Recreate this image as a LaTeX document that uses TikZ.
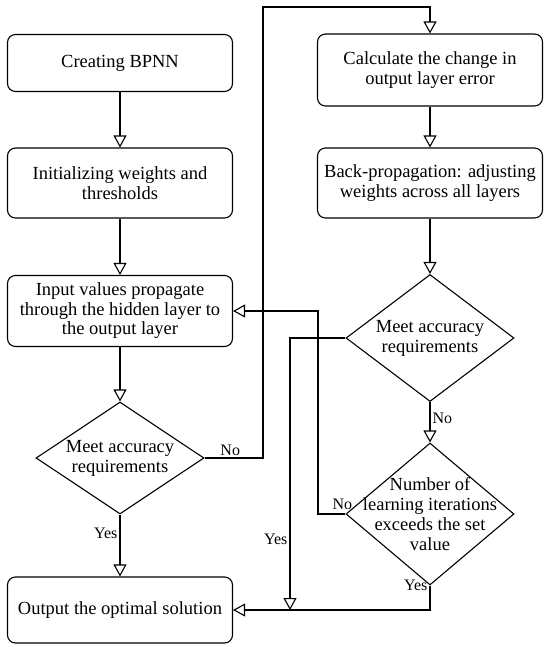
\documentclass[tikz,border=0pt]{standalone}
\usepackage{fontspec}
\setmainfont{Liberation Serif}
\usetikzlibrary{arrows.meta,shapes.geometric}

\tikzset{
    stepbox/.style={draw, rounded corners=8pt, minimum width=225pt,
        align=center, inner sep=2pt, font=\fontsize{18.5}{19.5}\selectfont},
    decision/.style={draw, diamond, minimum width=168pt, inner sep=0pt},
    dtext/.style={align=center, inner sep=0pt, font=\fontsize{18.5}{20}\selectfont},
    flow/.style={-{Triangle[open,length=12pt,width=13pt]}},
    tag/.style={inner sep=2pt, font=\fontsize{16}{18}\selectfont}
}

\begin{document}
\begin{tikzpicture}[x=1pt, y=-1pt, line width=1.1pt]
\useasboundingbox (0,0) rectangle (550,647);

% Left column
\node[stepbox, minimum height=57pt] (create) at (120,63) {Creating BPNN};
\node[stepbox, minimum height=70pt] (init) at (120,183) {Initializing  weights and\\thresholds};
\node[stepbox, minimum height=71pt] (input) at (120,311) {Input values propagate\\through the hidden layer to\\the output layer};
\node[decision, minimum height=112pt,
    label={[dtext]center:{Meet accuracy\\requirements}}] (meet1) at (120,458) {};
\node[stepbox, minimum height=66pt] (output) at (120,610) {Output the optimal solution};

% Right column
\node[stepbox, minimum height=72pt] (change) at (430,70) {Calculate the change in\\output layer error};
\node[stepbox, minimum height=70pt] (backprop) at (430,183) {Back-propagation: adjusting\\weights across all layers};
\node[decision, minimum height=127pt,
    label={[dtext]center:{Meet accuracy\\requirements}}] (meet2) at (430,338) {};
\node[decision, minimum height=142pt,
    label={[dtext]center:{Number of\\learning iterations\\exceeds the set\\value}}] (iter) at (430,514) {};

% Corners
\coordinate (top) at (263,7);
\coordinate (retry) at (318,311);
\coordinate (join) at (290,610);

% Connectors
\draw[flow] (create) -- (init);
\draw[flow] (init) -- (input);
\draw[flow] (input) -- (meet1);
\draw[flow] (meet1) -- node[tag, left, pos=0.3] {Yes} (output);
\draw[flow] (meet1.east) -| node[tag, above, pos=0.22] {No} (top) -| (change.north);
\draw[flow] (change) -- (backprop);
\draw[flow] (backprop) -- (meet2);
\draw[flow] (meet2) -- node[tag, right, pos=0.4] {No} (iter);
\draw[flow] (meet2.west) -| node[tag, left, pos=0.87] {Yes} (join);
\draw[flow] (iter.south) node[tag, left] {Yes} |- (output.east);
\draw[flow] (iter.west) node[tag, above, xshift=-3pt, yshift=2pt] {No} -| (retry) -- (input.east);

\end{tikzpicture}
\end{document}
